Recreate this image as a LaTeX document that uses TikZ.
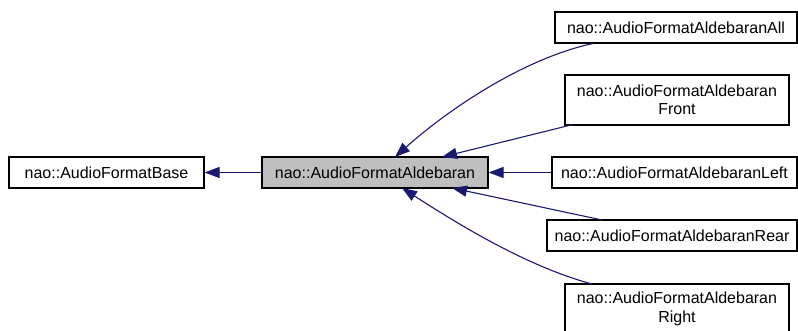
\documentclass[tikz,border=0pt]{standalone}
\usepackage{fontspec}
\setmainfont{Liberation Sans}
\usetikzlibrary{arrows.meta}
\definecolor{edgeblue}{HTML}{191970}
\definecolor{boxgray}{HTML}{BFBFBF}
\begin{document}
\begin{tikzpicture}[x=1pt,y=-1pt,
  cls/.style={draw=black, line width=1.1pt, fill=white, inner sep=0pt,
    align=center, font=\fontsize{16}{18.5}\selectfont},
  inh/.style={draw=edgeblue, line width=1.1pt,
    {Triangle[length=15pt,width=11pt,fill=edgeblue]}-}]
\useasboundingbox (0,0) rectangle (798,331);
\clip (0,0) rectangle (798,331);
% class boxes
\node[cls, minimum width=195pt, minimum height=31pt] (base) at (106.5,172.5) {nao::AudioFormatBase};
\node[cls, fill=boxgray, minimum width=226pt, minimum height=31pt] (ald) at (375,172.5) {nao::AudioFormatAldebaran};
\node[cls, minimum width=242pt, minimum height=31pt] (all) at (676,27.5) {nao::AudioFormatAldebaranAll};
\node[cls, minimum width=224pt, minimum height=50pt] (front) at (677,100) {nao::AudioFormatAldebaran\\Front};
\node[cls, minimum width=245pt, minimum height=31pt] (left) at (674.5,172.5) {nao::AudioFormatAldebaranLeft};
\node[cls, minimum width=250pt, minimum height=31pt] (rear) at (672,235.5) {nao::AudioFormatAldebaranRear};
\node[cls, minimum width=224pt, minimum height=50pt] (right) at (677,309) {nao::AudioFormatAldebaran\\Right};
% inheritance connectors
\coordinate (allS) at (593,43.5);
\coordinate (frontS) at (573,124.5);
\coordinate (rearS) at (602,220);
\coordinate (rightS) at (592,284);
\coordinate (aldA) at (395,157);
\coordinate (aldF) at (442,157);
\coordinate (aldR) at (452,188);
\coordinate (aldB) at (402,188);
\draw[inh] (base.east) -- (ald.west);
\draw[inh] (aldA) .. controls (450,108) and (525,58) .. (allS);
\draw[inh] (aldF) -- (frontS);
\draw[inh] (ald.east) -- (left.west);
\draw[inh] (aldR) -- (rearS);
\draw[inh] (aldB) .. controls (455,222) and (525,266) .. (rightS);
\end{tikzpicture}
\end{document}
